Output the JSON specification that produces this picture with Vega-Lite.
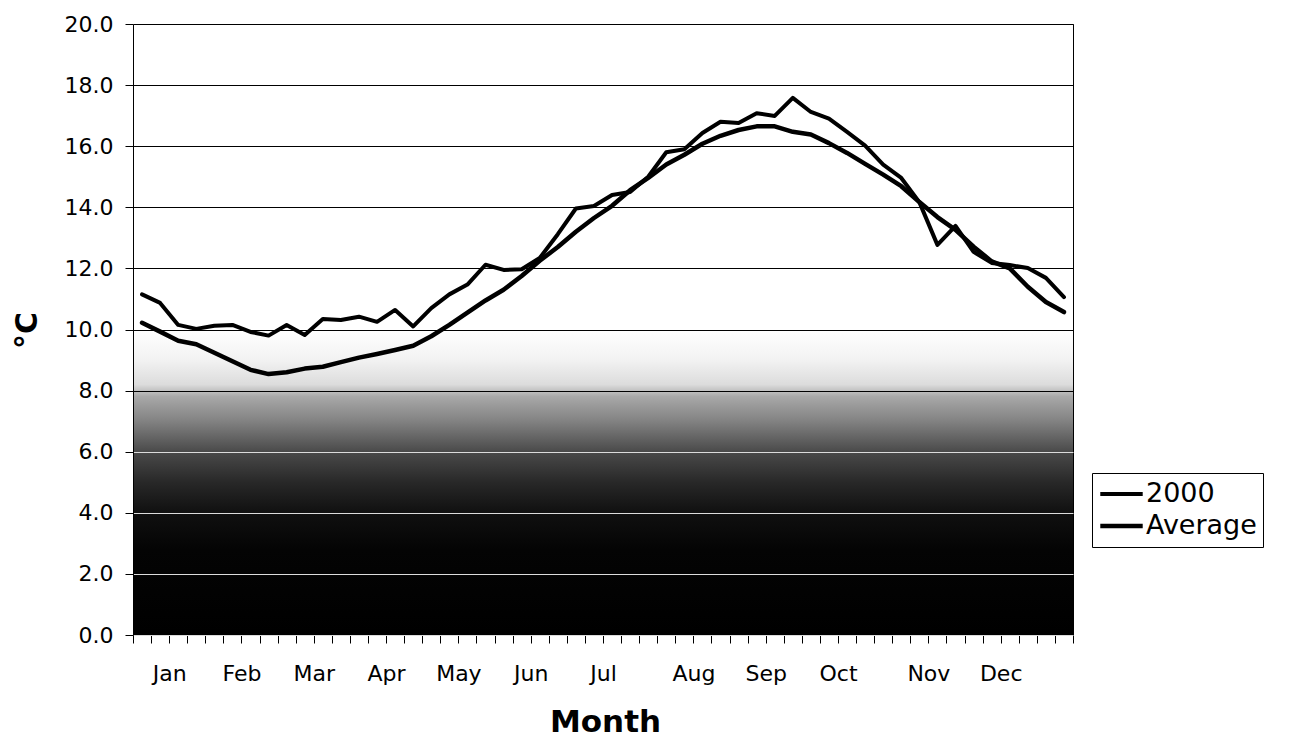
{
  "$schema": "https://vega.github.io/schema/vega-lite/v6.json",
  "width": 940,
  "height": 611,
  "autosize": {"type": "none"},
  "padding": {"left": 133, "top": 24, "right": 225, "bottom": 107},
  "background": "white",
  "config": {
    "font": "DejaVu Sans",
    "view": {"stroke": "black", "strokeWidth": 1},
    "axis": {"labelFont": "DejaVu Sans", "titleFont": "DejaVu Sans", "labelColor": "black", "titleColor": "black", "domainColor": "black", "tickColor": "black"}
  },
  "data": {"values": [
    {"week": 1, "2000": 11.15, "Average": 10.22},
    {"week": 2, "2000": 10.87, "Average": 9.93},
    {"week": 3, "2000": 10.15, "Average": 9.63},
    {"week": 4, "2000": 10.02, "Average": 9.52},
    {"week": 5, "2000": 10.12, "Average": 9.24},
    {"week": 6, "2000": 10.15, "Average": 8.96},
    {"week": 7, "2000": 9.92, "Average": 8.68},
    {"week": 8, "2000": 9.8, "Average": 8.54},
    {"week": 9, "2000": 10.15, "Average": 8.6},
    {"week": 10, "2000": 9.82, "Average": 8.72},
    {"week": 11, "2000": 10.34, "Average": 8.78},
    {"week": 12, "2000": 10.31, "Average": 8.93},
    {"week": 13, "2000": 10.42, "Average": 9.08},
    {"week": 14, "2000": 10.25, "Average": 9.2},
    {"week": 15, "2000": 10.64, "Average": 9.33},
    {"week": 16, "2000": 10.1, "Average": 9.47},
    {"week": 17, "2000": 10.7, "Average": 9.78},
    {"week": 18, "2000": 11.15, "Average": 10.15},
    {"week": 19, "2000": 11.47, "Average": 10.55},
    {"week": 20, "2000": 12.12, "Average": 10.95},
    {"week": 21, "2000": 11.95, "Average": 11.3},
    {"week": 22, "2000": 11.97, "Average": 11.75},
    {"week": 23, "2000": 12.34, "Average": 12.25},
    {"week": 24, "2000": 13.12, "Average": 12.7},
    {"week": 25, "2000": 13.96, "Average": 13.2},
    {"week": 26, "2000": 14.04, "Average": 13.65},
    {"week": 27, "2000": 14.4, "Average": 14.05},
    {"week": 28, "2000": 14.5, "Average": 14.56},
    {"week": 29, "2000": 15.0, "Average": 14.96},
    {"week": 30, "2000": 15.8, "Average": 15.4},
    {"week": 31, "2000": 15.9, "Average": 15.72},
    {"week": 32, "2000": 16.43, "Average": 16.08},
    {"week": 33, "2000": 16.8, "Average": 16.34},
    {"week": 34, "2000": 16.76, "Average": 16.53},
    {"week": 35, "2000": 17.08, "Average": 16.65},
    {"week": 36, "2000": 16.99, "Average": 16.65},
    {"week": 37, "2000": 17.58, "Average": 16.47},
    {"week": 38, "2000": 17.12, "Average": 16.38},
    {"week": 39, "2000": 16.9, "Average": 16.1},
    {"week": 40, "2000": 16.47, "Average": 15.78},
    {"week": 41, "2000": 16.02, "Average": 15.42},
    {"week": 42, "2000": 15.4, "Average": 15.07},
    {"week": 43, "2000": 14.96, "Average": 14.69},
    {"week": 44, "2000": 14.17, "Average": 14.17},
    {"week": 45, "2000": 12.77, "Average": 13.68},
    {"week": 46, "2000": 13.39, "Average": 13.26},
    {"week": 47, "2000": 12.54, "Average": 12.71},
    {"week": 48, "2000": 12.18, "Average": 12.23},
    {"week": 49, "2000": 12.11, "Average": 12.0},
    {"week": 50, "2000": 12.01, "Average": 11.4},
    {"week": 51, "2000": 11.69, "Average": 10.9},
    {"week": 52, "2000": 11.06, "Average": 10.57}
  ]},
  "layer": [
    {
      "data": {"values": [{"bg": 1}]},
      "mark": {
        "type": "rect",
        "color": {
          "gradient": "linear",
          "x1": 0, "y1": 0, "x2": 0, "y2": 1,
          "stops": [
            {"offset": 0, "color": "#ffffff"},
            {"offset": 0.5, "color": "#ffffff"},
            {"offset": 0.55, "color": "#f2f2f2"},
            {"offset": 0.59, "color": "#dcdcdc"},
            {"offset": 0.61, "color": "#a8a8a8"},
            {"offset": 0.65, "color": "#828282"},
            {"offset": 0.7, "color": "#4a4a4a"},
            {"offset": 0.75, "color": "#282828"},
            {"offset": 0.8, "color": "#101010"},
            {"offset": 0.86, "color": "#040404"},
            {"offset": 1, "color": "#000000"}
          ]
        }
      },
      "encoding": {
        "x": {"datum": 0.5, "type": "quantitative"},
        "x2": {"datum": 52.5},
        "y": {"datum": 20, "type": "quantitative"},
        "y2": {"datum": 0}
      }
    },
    {
      "transform": [{"fold": ["2000", "Average"], "as": ["series", "temp"]}],
      "mark": {"type": "line", "strokeJoin": "round", "strokeCap": "round"},
      "encoding": {
        "x": {
          "field": "week", "type": "quantitative",
          "scale": {"domain": [0.5, 52.5], "nice": false, "zero": false},
          "axis": {
            "values": [0.5,1.5,2.5,3.5,4.5,5.5,6.5,7.5,8.5,9.5,10.5,11.5,12.5,13.5,14.5,15.5,16.5,17.5,18.5,19.5,20.5,21.5,22.5,23.5,24.5,25.5,26.5,27.5,28.5,29.5,30.5,31.5,32.5,33.5,34.5,35.5,36.5,37.5,38.5,39.5,40.5,41.5,42.5,43.5,44.5,45.5,46.5,47.5,48.5,49.5,50.5,51.5,52.5],
            "tickCount": 200,
            "labelExpr": "datum.value==2.5?'Jan':datum.value==6.5?'Feb':datum.value==10.5?'Mar':datum.value==14.5?'Apr':datum.value==18.5?'May':datum.value==22.5?'Jun':datum.value==26.5?'Jul':datum.value==31.5?'Aug':datum.value==35.5?'Sep':datum.value==39.5?'Oct':datum.value==44.5?'Nov':datum.value==48.5?'Dec':''",
            "labelOverlap": false,
            "labelFlush": false,
            "labelBound": false,
            "labelFontSize": 22,
            "labelPadding": 20,
            "tickSize": 8,
            "grid": false,
            "title": "Month",
            "titleFontSize": 31,
            "titleFontWeight": "bold",
            "titleX": 472,
            "titleY": 87,
            "titleBaseline": "middle",
            "titleAlign": "center"
          }
        },
        "y": {
          "field": "temp", "type": "quantitative",
          "scale": {"domain": [0, 20], "nice": false, "zero": true},
          "axis": {
            "values": [0, 2, 4, 6, 8, 10, 12, 14, 16, 18, 20],
            "tickCount": 200,
            "format": ".1f",
            "labelFontSize": 22,
            "labelPadding": 12,
            "tickSize": 8,
            "grid": true,
            "gridColor": {"condition": {"test": "datum.value <= 6", "value": "#dcdcdc"}, "value": "black"},
            "gridOpacity": 1,
            "gridWidth": 1,
            "zindex": 1,
            "title": "°C",
            "titleFontSize": 30,
            "titleFontWeight": "bold",
            "titleX": -106,
            "titleY": 306,
            "titleAlign": "center",
            "titleBaseline": "middle"
          }
        },
        "color": {
          "field": "series", "type": "nominal",
          "scale": {"domain": ["2000", "Average"], "range": ["black", "black"]},
          "legend": {
            "title": null,
            "orient": "none",
            "legendX": 959,
            "legendY": 449,
            "strokeColor": "black",
            "fillColor": "white",
            "padding": 6,
            "labelFontSize": 27,
            "labelFont": "DejaVu Sans",
            "labelColor": "black",
            "labelOffset": 1,
            "symbolType": "stroke",
            "symbolSize": 1800,
            "clipHeight": 30,
            "rowPadding": 2,
            "labelLimit": 300
          }
        },
        "strokeWidth": {
          "field": "series", "type": "nominal",
          "scale": {"domain": ["2000", "Average"], "range": [4, 4.5]},
          "legend": {
            "title": null,
            "orient": "none",
            "legendX": 959,
            "legendY": 449,
            "strokeColor": "black",
            "fillColor": "white",
            "padding": 6,
            "labelFontSize": 27,
            "labelFont": "DejaVu Sans",
            "labelColor": "black",
            "labelOffset": 1,
            "symbolType": "stroke",
            "symbolSize": 1800,
            "clipHeight": 30,
            "rowPadding": 2,
            "labelLimit": 300
          }
        }
      }
    }
  ]
}
